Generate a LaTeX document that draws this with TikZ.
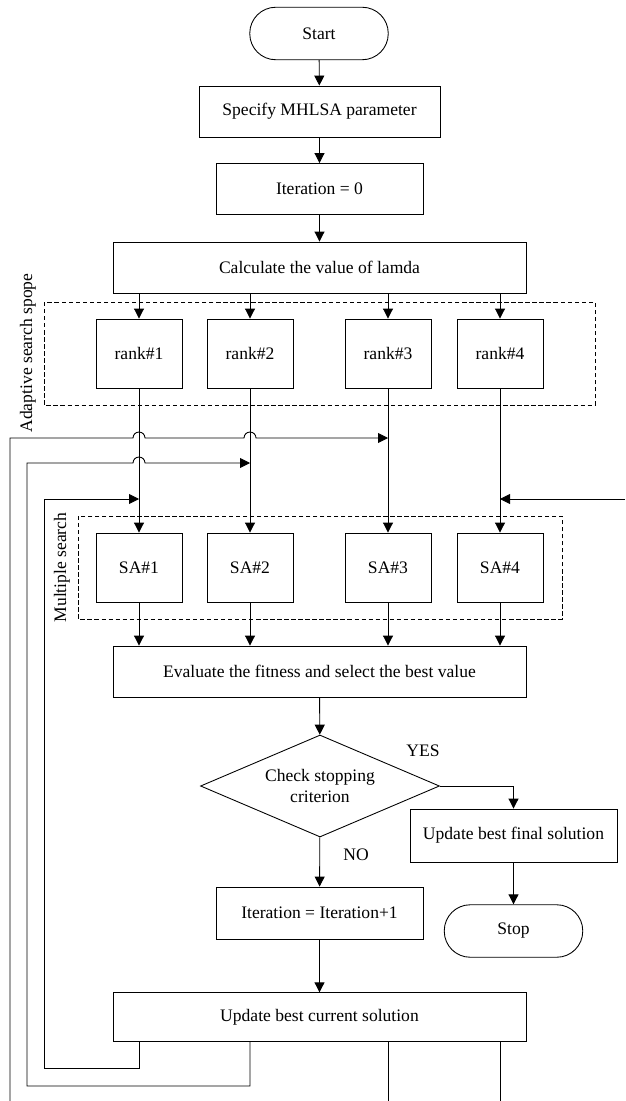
\documentclass[tikz,border=0pt]{standalone}
\usepackage{fontspec}
\setmainfont{Liberation Serif}
\usetikzlibrary{arrows.meta,shapes.geometric}

\begin{document}
\begin{tikzpicture}[x=0.02cm, y=-0.02cm, line width=0.5pt,
    >={Triangle[length=2mm,width=2mm]},
    box/.style={draw, minimum height=1.02cm, inner sep=0pt},
    term/.style={draw, rounded corners=0.52cm, minimum width=2.77cm, minimum height=1.05cm},
    small/.style={draw, minimum width=1.72cm, minimum height=1.38cm},
    group/.style={draw, dash pattern=on 2.5pt off 1.5pt, line width=0.4pt}]
    \useasboundingbox (0,0) rectangle (625,1101);

    % Start and set-up
    \node[term] (start) at (319,33.5) {Start};
    \node[box, minimum width=4.82cm] (spec) at (319.5,111.5) {Specify MHLSA parameter};
    \node[box, minimum width=4.14cm] (iter0) at (319.5,189) {Iteration = 0};
    \node[box, minimum width=8.26cm] (lamda) at (319.5,267.5) {Calculate the value of lamda};

    % Dashed groups
    \draw[group] (44,302) rectangle (595,405);
    \draw[group] (78,516) rectangle (562,619);
    \node[rotate=90] (adapt) at (28,353) {Adaptive search spope};
    \node[rotate=90] (multi) at (62,567.5) {Multiple search};

    % Ranks and SA
    \foreach \i/\x in {1/139,2/250,3/388,4/500} {
        \node[small] (rank\i) at (\x,353.5) {rank\#\i};
        \node[small] (sa\i) at (\x,567.5) {SA\#\i};
    }

    % Evaluation and decision
    \node[box, minimum width=8.26cm] (eval) at (319.5,671.5) {Evaluate the fitness and select the best value};
    \node[draw, diamond, aspect=2.3, minimum width=4.78cm, minimum height=2.04cm, inner sep=0pt, align=center] (check) at (320,786) {Check stopping\\criterion};
    \node[box, minimum width=4.14cm, minimum height=1.06cm] (final) at (513.5,835.5) {Update best final solution};
    \node[term] (stop) at (513.5,931) {Stop};
    \node[box, minimum width=4.14cm, minimum height=1.04cm] (iter1) at (319.5,913) {Iteration = Iteration+1};
    \node[box, minimum width=8.26cm, minimum height=0.97cm] (upd) at (319.5,1017) {Update best current solution};
    \node (yes) at (423,751) {YES};
    \node (no) at (356,855) {NO};

    % Free ends
    \coordinate (fb1) at (139,499);
    \coordinate (fb2) at (250,463);
    \coordinate (fb3) at (388,438);
    \coordinate (fb4) at (500,499);
    \coordinate (edgeL) at (10,1101);
    \coordinate (edgeR) at (625,499);
    \coordinate (bot) at (0,1101);

    % Main flow
    \draw[->] (start) -- (spec);
    \draw[->] (spec) -- (iter0);
    \draw[->] (iter0) -- (lamda);
    \foreach \i in {1,...,4} {
        \draw[->] (lamda.south -| rank\i) -- (rank\i);
        \draw[->] (rank\i) -- (sa\i);
        \draw[->] (sa\i) -- (sa\i |- eval.north);
    }
    \draw[->] (eval) -- (check);
    \draw[->] (check) -- (iter1);
    \draw[->] (check.east) -| (final.north);
    \draw[->] (final) -- (stop);
    \draw[->] (iter1) -- (upd);

    % Feedback loops
    \draw[->] (upd.south -| sa1) |- (44,1068) |- (fb1);
    \draw[->] (upd.south -| sa2) |- (27,1086) |- (133,463)
        arc[start angle=180, end angle=0, radius=0.12cm] -- (fb2);
    \draw[->] (edgeL) |- (133,438)
        arc[start angle=180, end angle=0, radius=0.12cm] -- (244,438)
        arc[start angle=180, end angle=0, radius=0.12cm] -- (fb3);
    \draw[->] (edgeR) -- (fb4);
    \draw (upd.south -| sa3) -- (bot -| sa3);
    \draw (upd.south -| sa4) -- (bot -| sa4);
\end{tikzpicture}
\end{document}
